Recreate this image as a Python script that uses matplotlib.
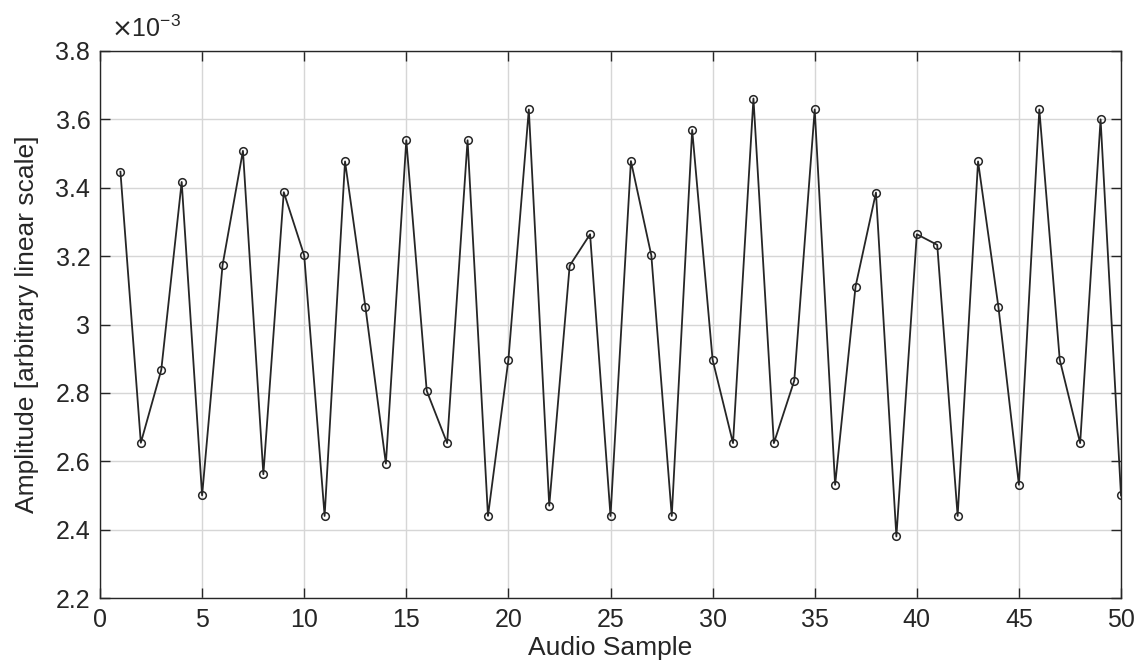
import matplotlib
matplotlib.use("Agg")
import matplotlib.pyplot as plt
from matplotlib.ticker import FuncFormatter

# Audio samples (1..50) and their amplitudes (x 1e-3)
samples = list(range(1, 51))
amplitude_e3 = [
    3.447, 2.654, 2.867, 3.417, 2.500, 3.173, 3.508, 2.562, 3.387, 3.202,
    2.440, 3.477, 3.050, 2.593, 3.539, 2.806, 2.653, 3.539, 2.440, 2.897,
    3.629, 2.470, 3.172, 3.264, 2.440, 3.478, 3.202, 2.440, 3.569, 2.897,
    2.653, 3.661, 2.653, 2.836, 3.629, 2.531, 3.111, 3.386, 2.380, 3.264,
    3.233, 2.440, 3.477, 3.050, 2.531, 3.629, 2.897, 2.653, 3.600, 2.500,
]
amplitude = [v * 1e-3 for v in amplitude_e3]

x_ticks = list(range(0, 51, 5))
y_ticks = [2.2e-3, 2.4e-3, 2.6e-3, 2.8e-3, 3.0e-3, 3.2e-3, 3.4e-3, 3.6e-3, 3.8e-3]

plt.rcParams["font.family"] = ["Liberation Sans", "DejaVu Sans"]
plt.rcParams["axes.unicode_minus"] = False

axis_col = "#262626"
fig = plt.figure(figsize=(11.37, 6.64), dpi=100)
ax = fig.add_axes([100 / 1137, 1 - 598 / 664, 1021 / 1137, 547 / 664])

ax.plot(samples, amplitude, color=axis_col, linewidth=1.3, marker="o",
        markersize=5.5, markerfacecolor="none", markeredgecolor=axis_col,
        markeredgewidth=1.1, zorder=3)

ax.set_xlim(0, 50)
ax.set_ylim(2.2e-3, 3.8e-3)
ax.set_xticks(x_ticks)
ax.set_yticks(y_ticks)
ax.yaxis.set_major_formatter(FuncFormatter(lambda v, p: f"{v * 1e3:g}"))

ax.grid(True, color="#d6d6d6", linewidth=1.0, zorder=0)
ax.set_axisbelow(True)
for s in ax.spines.values():
    s.set_color(axis_col)
    s.set_linewidth(1.0)
ax.tick_params(axis="both", direction="in", length=7, width=1.0,
               color=axis_col, labelcolor=axis_col, labelsize=18,
               top=True, right=True, pad=7)

ax.set_xlabel("Audio Sample", fontsize=19, color=axis_col, labelpad=3)
ax.set_ylabel("Amplitude [arbitrary linear scale]", fontsize=19,
              color=axis_col, labelpad=12)

ax.text(0.011, 1.016, r"$\times$10$^{\mathregular{-3}}$", transform=ax.transAxes,
        fontsize=18, color=axis_col, ha="left", va="bottom")

fig.savefig("out.png", dpi=100)
